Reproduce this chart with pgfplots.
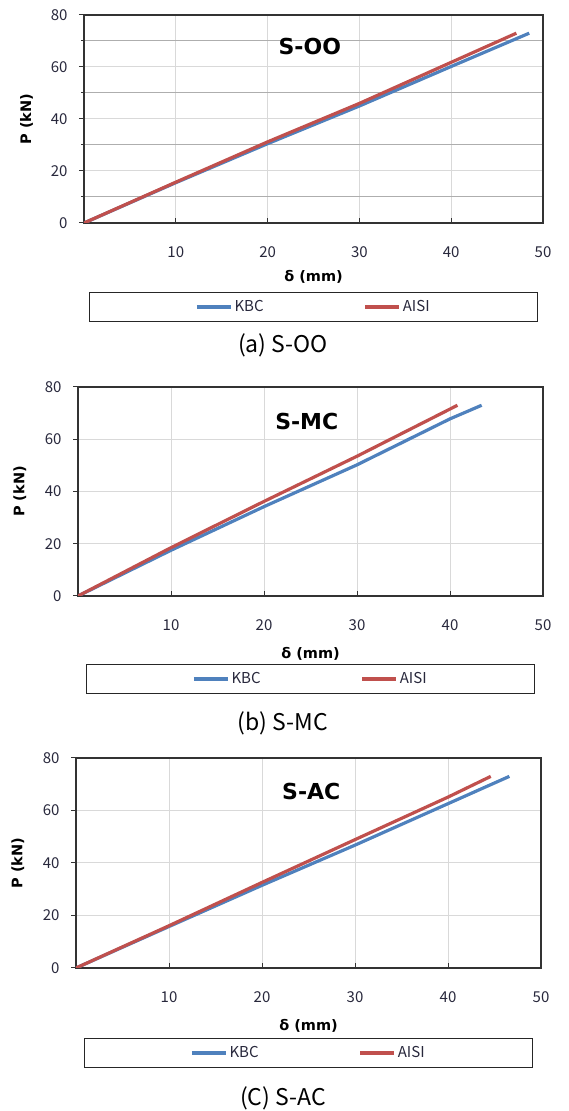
\documentclass[border=0pt]{standalone}
\usepackage{fontspec}
\setmainfont{Noto Sans CJK KR}
\newfontfamily\labfont{DejaVu Sans}
\usepackage{pgfplots}
\pgfplotsset{compat=1.18}

\definecolor{kbc}{RGB}{79,129,189}
\definecolor{aisi}{RGB}{192,80,77}
\definecolor{gridc}{RGB}{217,217,217}
\definecolor{tickc}{RGB}{40,40,60}

\pgfplotsset{
  panel/.style={
    scale only axis,
    anchor=south west,
    xmin=0, xmax=50, ymin=0, ymax=80,
    xtick={10,20,30,40,50},
    ytick={0,20,40,60,80},
    xtick pos=bottom, ytick pos=left,
    xtick align=inside, ytick align=outside,
    major tick length=5pt,
    tick style={black!80, line width=1pt},
    axis line style={black!80, line width=1.3pt},
    grid=major,
    major grid style={gridc, line width=1pt},
    /pgf/number format/assume math mode=true,
    ticklabel style={font=\fontsize{15}{18}\selectfont, text=tickc},
    xticklabel style={yshift=-20pt},
    yticklabel style={xshift=-8pt},
    xlabel={δ (mm)},
    ylabel={P (kN)},
    every axis y label/.style={at={(axis description cs:-0.125,0.5)}, rotate=90, anchor=center,
      font=\labfont\bfseries\fontsize{14.5}{17}\selectfont},
    legend columns=2,
    legend style={
      at={(axis description cs:0.5,0)}, anchor=north,
      draw=black!85, line width=1.2pt,
      font=\fontsize{15}{18}\selectfont, text=tickc,
      inner xsep=106pt, inner ysep=6pt,
      /tikz/every even column/.append style={column sep=98pt},
    },
    legend image code/.code={\draw[line width=3.2pt] (0pt,0pt) -- (34pt,0pt);},
  },
  xlab/.style={every axis x label/.style={at={(axis description cs:0.5,0)}, anchor=center, yshift=-#1,
      font=\labfont\bfseries\fontsize{14.5}{17}\selectfont}},
  kline/.style={kbc, line width=3.2pt},
  aline/.style={aisi, line width=3.2pt},
}

\newcommand{\paneltitle}[3]{\node[font=\labfont\bfseries\fontsize{22}{25}\selectfont] at (axis cs:#1,#2) {#3};}

\begin{document}
\begin{tikzpicture}
\path[use as bounding box] (0,0) rectangle (568pt,1111pt);

% (a) S-OO
\begin{axis}[panel, at={(84pt,888pt)}, width=459pt, height=208pt,
    minor ytick={10,30,50,70}, minor grid style={gridc!80!black, line width=1pt},
    ymajorgrids, yminorgrids, xlab=54pt,
    legend style={yshift=-69pt}]
\addplot[kline] coordinates {(0,0) (10,15.5) (20,30.5) (30,45) (40,60.2) (48.5,73)};
\addlegendentry{KBC}
\addplot[aline] coordinates {(0,0) (10,15.7) (20,31.2) (30,46) (40,61.8) (47.1,73)};
\addlegendentry{AISI}
\paneltitle{24.6}{68}{S-OO}
\end{axis}
\node[font=\fontsize{23}{26}\selectfont] at (283pt,766pt) {(a) S-OO};

% (b) S-MC
\begin{axis}[panel, at={(78pt,515pt)}, width=465pt, height=209pt, xlab=58pt,
    legend style={yshift=-68pt}]
\addplot[kline] coordinates {(0,0) (10,17.5) (20,34.2) (30,50.2) (40,67.8) (43.4,73)};
\addlegendentry{KBC}
\addplot[aline] coordinates {(0,0) (10,18.5) (20,36.2) (30,53.5) (40.8,73)};
\addlegendentry{AISI}
\paneltitle{24.6}{66.8}{S-MC}
\end{axis}
\node[font=\fontsize{23}{26}\selectfont] at (283pt,388pt) {(b) S-MC};

% (C) S-AC
\begin{axis}[panel, at={(76pt,143pt)}, width=465pt, height=210pt, xlab=58pt,
    legend style={yshift=-70pt}]
\addplot[kline] coordinates {(0,0) (10,15.8) (20,31.5) (30,46.8) (40,62.6) (46.6,73)};
\addlegendentry{KBC}
\addplot[aline] coordinates {(0,0) (10,16.1) (20,32.6) (30,48.9) (40,65.1) (44.6,73)};
\addlegendentry{AISI}
\paneltitle{25.3}{67.3}{S-AC}
\end{axis}
\node[font=\fontsize{23}{26}\selectfont] at (283pt,13pt) {(C) S-AC};
\end{tikzpicture}
\end{document}
